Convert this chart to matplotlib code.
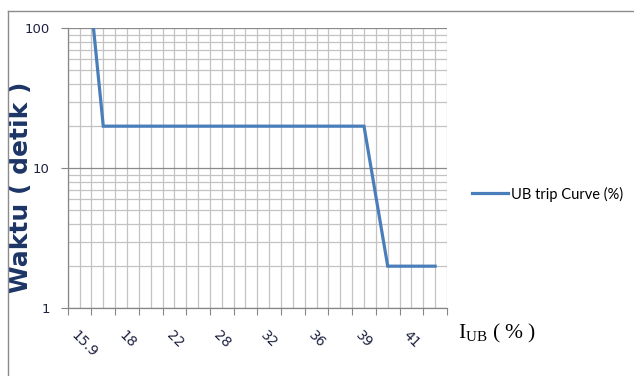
import matplotlib
matplotlib.use('Agg')
import matplotlib.pyplot as plt
from matplotlib.lines import Line2D
from matplotlib.ticker import FixedLocator, NullFormatter
from matplotlib.transforms import ScaledTranslation
import numpy as np

plt.rcParams['font.family'] = 'DejaVu Sans'
plt.rcParams['mathtext.fontset'] = 'custom'
plt.rcParams['mathtext.rm'] = 'Liberation Serif'

# data (category axis, 16 points, every 2nd category labelled)
shown_labels = ['15.9', '18', '22', '28', '32', '36', '39', '41']
trip_time = [1000, 20, 20, 20, 20, 20, 20, 20, 20, 20, 20, 20, 20, 2, 2, 2]
series_name = 'UB trip Curve (%)'

n = len(trip_time)
x = np.arange(n)

fig = plt.figure(figsize=(6.34, 3.76), dpi=100)
ax = fig.add_axes([0.1068, 0.18, 0.5982, 0.7447])

line, = ax.plot(x, trip_time, color='#4A7EBB', lw=2.3, zorder=3,
                solid_joinstyle='miter')

ax.set_yscale('log')
ax.set_ylim(1, 100)
ax.set_xlim(-0.5, n - 0.5)

# y ticks
ax.yaxis.set_major_locator(FixedLocator([1, 10, 100]))
ax.set_yticklabels(['1', '10', '100'])
ax.yaxis.set_minor_formatter(NullFormatter())
ax.tick_params(axis='y', which='major', length=5, width=0.8, color='#868686',
               pad=8, labelsize=9.5, labelcolor='#1e2240')
ax.tick_params(axis='y', which='minor', length=0)

# x ticks: labels at category centres, marks at category borders
ax.xaxis.set_major_locator(FixedLocator(x))
labels = [shown_labels[i // 2] if i % 2 == 0 else '' for i in range(n)]
ax.set_xticklabels(labels)
ax.xaxis.set_minor_locator(FixedLocator(np.arange(-0.5, n, 1.0)))
ax.tick_params(axis='x', which='major', length=0, pad=14,
               labelsize=10, labelcolor='#1e2240')
ax.tick_params(axis='x', which='minor', length=5, width=0.8, color='#868686')
off = ScaledTranslation(-1 / 100, 0, fig.dpi_scale_trans)
for lab in ax.get_xticklabels():
    lab.set_rotation(-45)
    lab.set_ha('left')
    lab.set_va('top')
    lab.set_rotation_mode('anchor')
    lab.set_transform(lab.get_transform() + off)

# grid
ax.grid(True, axis='x', which='both', color='#c3c3c3', lw=0.9, zorder=0)
ax.grid(True, axis='y', which='minor', color='#c3c3c3', lw=0.9, zorder=0)
ax.grid(True, axis='y', which='major', color='#8a8a8a', lw=0.9, zorder=0)
ax.set_axisbelow(True)

for s in ['top', 'right']:
    ax.spines[s].set_visible(False)
for s in ['left', 'bottom']:
    ax.spines[s].set_color('#868686')
    ax.spines[s].set_linewidth(0.9)

# axis titles
ax.set_ylabel('Waktu ( detik )', fontsize=18, fontweight='bold',
              color='#1c3566')
ax.yaxis.set_label_coords(-0.0915, 0.433)
fig.text(458 / 634, 1 - 338 / 376, r'$\mathrm{I_{UB}}$ ( % )',
         family='Liberation Serif', fontsize=15.5, ha='left', va='baseline')

# legend
fig.legend([line], [series_name], loc='center left',
           bbox_to_anchor=(472 / 634, 1 - 194 / 376), frameon=False,
           borderpad=0, borderaxespad=0, handlelength=2.5, handletextpad=0.15,
           prop={'family': 'Lato', 'size': 10.5})

# chart area border (top and left visible)
fig.add_artist(Line2D([8 / 634, 8 / 634], [0, 1 - 10.7 / 376],
                      transform=fig.transFigure, color='#8c8c8c', lw=1))
fig.add_artist(Line2D([8 / 634, 1], [1 - 10.7 / 376, 1 - 10.7 / 376],
                      transform=fig.transFigure, color='#8c8c8c', lw=1))

fig.savefig('out.png', dpi=100)
plt.close(fig)
